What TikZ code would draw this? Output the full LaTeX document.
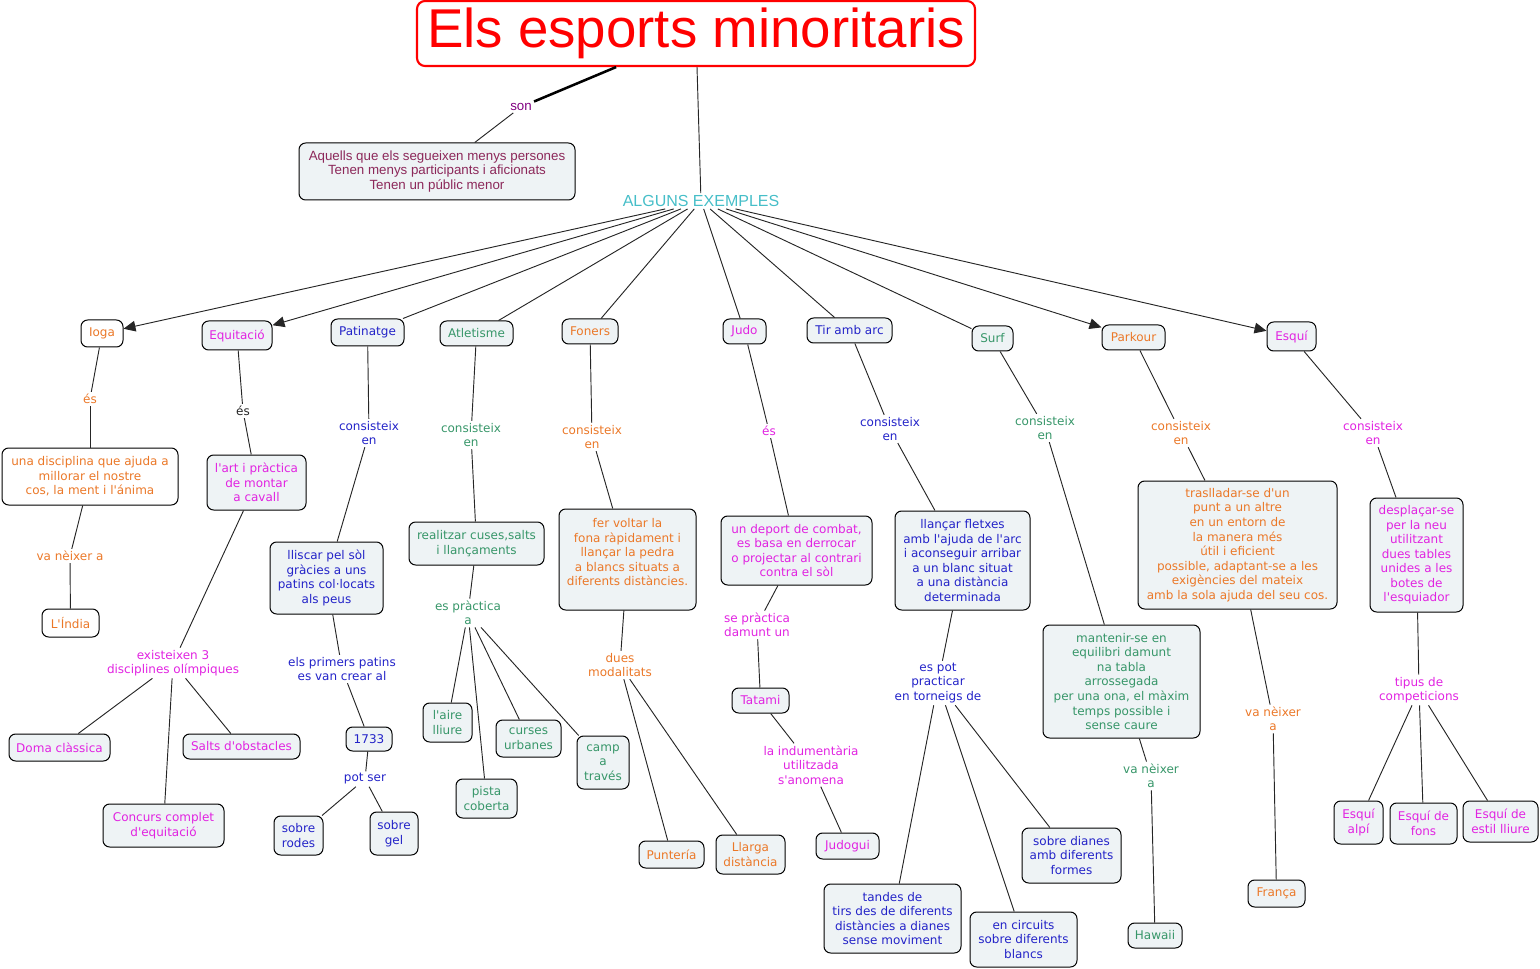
\documentclass[tikz,border=0pt]{standalone}
\usepackage{fontspec}
\setmainfont{DejaVu Sans}
\newfontfamily\lib{Liberation Sans}
\usetikzlibrary{arrows.meta}
\newcommand{\q}{\textquotesingle}
\definecolor{org}{RGB}{235,120,40}
\definecolor{mag}{RGB}{225,35,225}
\definecolor{blu}{RGB}{35,35,200}
\definecolor{grn}{RGB}{55,150,105}
\definecolor{tea}{RGB}{70,190,200}
\definecolor{boxfill}{RGB}{238,243,245}
\definecolor{pur}{RGB}{128,0,128}
\definecolor{mar}{RGB}{140,40,90}
\tikzset{
 bx/.style={draw=black, line width=0.75pt, rounded corners=5pt, fill=boxfill, align=center, inner sep=1.5pt, font=\fontsize{9}{10.9}\selectfont},
 wbx/.style={bx, fill=white},
 wh/.style 2 args={minimum width=#1*0.75pt, minimum height=#2*0.75pt},
 lbl/.style={align=center, inner sep=1.5pt, font=\fontsize{9}{10.9}\selectfont},
 ln/.style={draw=black!85, line width=0.7pt},
 arr/.style={ln, -{Triangle[length=9pt,width=8pt]}},
}
\begin{document}
\begin{tikzpicture}[x=0.75pt,y=-0.75pt]
\useasboundingbox (0,0) rectangle (1540,969);
% title
\node[draw=red, line width=1.6pt, rounded corners=6pt, fill=white, wh={558}{65}, text=red, font=\lib\fontsize{41}{45}\selectfont, inner sep=0pt] (title) at (696,33.5) {Els esports minoritaris};
\node[lbl, text=pur, font=\lib\fontsize{10}{11}\selectfont] (son) at (521,107) {son};
\node[bx, wh={276}{57}, text=mar, font=\lib\fontsize{10}{10.9}\selectfont] (aquells) at (437,171.5) {Aquells que els segueixen menys persones\\Tenen menys participants i aficionats\\Tenen un públic menor};
\node[lbl, text=tea, font=\lib\fontsize{12}{13}\selectfont] (alg) at (701,201) {ALGUNS EXEMPLES};
\draw[line width=1.9pt] (title) -- (son);
\draw[ln] (son) -- (aquells);
\draw[ln] (title) -- (alg);
% level 1
\node[wbx, wh={42}{27}, text=org] (ioga) at (102,333.5) {Ioga};
\node[bx, wh={70}{29}, text=mag] (equi) at (237,335.5) {Equitació};
\node[bx, wh={73}{27}, text=blu] (pat) at (367.5,332.5) {Patinatge};
\node[bx, wh={73}{25}, text=grn] (atl) at (476.5,333.5) {Atletisme};
\node[bx, wh={56}{25}, text=org] (fon) at (590,331.5) {Foners};
\node[bx, wh={43}{25}, text=mag] (judo) at (744.5,331.5) {Judo};
\node[bx, wh={85}{25}, text=blu] (tir) at (849.5,330.5) {Tir amb arc};
\node[bx, wh={41}{25}, text=grn] (surf) at (992.5,338.5) {Surf};
\node[bx, wh={63}{25}, text=org] (park) at (1133.5,337.5) {Parkour};
\node[bx, wh={49}{29}, text=mag] (esqui) at (1291.5,336.5) {Esquí};
\draw[arr] (alg) -- (ioga);
\draw[arr] (alg) -- (equi);
\draw[ln] (alg) -- (pat);
\draw[ln] (alg) -- (atl);
\draw[ln] (alg) -- (fon);
\draw[ln] (alg) -- (judo);
\draw[ln] (alg) -- (tir);
\draw[ln] (alg) -- (surf);
\draw[arr] (alg) -- (park);
\draw[arr] (alg) -- (esqui);
% Ioga
\node[lbl, text=org] (es1) at (90,399) {és};
\node[wbx, wh={176}{57}, text=org] (disc) at (90,476.5) {una disciplina que ajuda a\\millorar el nostre\\cos, la ment i l\q{}ánima};
\node[lbl, text=org] (vaneix1) at (70,556) {va nèixer a};
\node[wbx, wh={57}{28}, text=org] (india) at (70.5,623) {L\q{}Índia};
\draw[ln] (ioga) -- (es1);
\draw[ln] (es1) -- (disc);
\draw[ln] (disc) -- (vaneix1);
\draw[ln] (vaneix1) -- (india);
% Equitacio
\node[lbl, text=black!85] (es2) at (243,411) {és};
\node[bx, wh={99}{55}, text=mag] (art) at (256.5,482.5) {l\q{}art i pràctica\\de montar\\a cavall};
\node[lbl, text=mag] (exist) at (173,663) {existeixen 3\\disciplines olímpiques};
\node[bx, wh={101}{27}, text=mag] (doma) at (59.5,747.5) {Doma clàssica};
\node[bx, wh={117}{25}, text=mag] (salts) at (241.5,746.5) {Salts d\q{}obstacles};
\node[bx, wh={121}{43}, text=mag] (concurs) at (163.5,825.5) {Concurs complet\\d\q{}equitació};
\draw[ln] (equi) -- (es2);
\draw[ln] (es2) -- (art);
\draw[ln] (art) -- (exist);
\draw[ln] (exist) -- (doma);
\draw[ln] (exist) -- (salts);
\draw[ln] (exist) -- (concurs);
% Patinatge
\node[lbl, text=blu] (cons1) at (369,433) {consisteix\\en};
\node[bx, wh={113}{72}, text=blu] (lliscar) at (326.5,578) {lliscar pel sòl\\gràcies a uns\\patins col·locats\\als peus};
\node[lbl, text=blu] (primers) at (342,669) {els primers patins\\es van crear al};
\node[bx, wh={46}{24}, text=blu] (y1733) at (369,739) {1733};
\node[lbl, text=blu] (potser) at (365,779) {pot ser};
\node[bx, wh={49}{39}, text=blu] (rodes) at (298.5,835.5) {sobre\\rodes};
\node[bx, wh={48}{43}, text=blu] (gel) at (394,833.5) {sobre\\gel};
\draw[ln] (pat) -- (cons1);
\draw[ln] (cons1) -- (lliscar);
\draw[ln] (lliscar) -- (primers);
\draw[ln] (primers) -- (y1733);
\draw[ln] (y1733) -- (potser);
\draw[ln] (potser) -- (rodes);
\draw[ln] (potser) -- (gel);
% Atletisme
\node[lbl, text=grn] (cons2) at (471,435) {consisteix\\en};
\node[bx, wh={135}{43}, text=grn] (realitzar) at (476.5,543.5) {realitzar cuses,salts\\i llançaments};
\node[lbl, text=grn] (espract) at (468,613) {es pràctica\\a};
\node[bx, wh={49}{39}, text=grn] (aire) at (447.5,722.5) {l\q{}aire\\lliure};
\node[bx, wh={61}{39}, text=grn] (pista) at (486.5,798.5) {pista\\coberta};
\node[bx, wh={65}{37}, text=grn] (curses) at (528.5,738.5) {curses\\urbanes};
\node[bx, wh={52}{53}, text=grn] (camp) at (603,762.5) {camp\\a\\través};
\draw[ln] (atl) -- (cons2);
\draw[ln] (cons2) -- (realitzar);
\draw[ln] (realitzar) -- (espract);
\draw[ln] (espract) -- (aire);
\draw[ln] (espract) -- (pista);
\draw[ln] (espract) -- (curses);
\draw[ln] (espract) -- (camp);
% Foners
\node[lbl, text=org] (cons3) at (592,437) {consisteix\\en};
\node[bx, wh={137}{101}, text=org] (fer) at (627.5,559.5) {fer voltar la\\fona ràpidament i\\llançar la pedra\\a blancs situats a\\diferents distàncies.\\~};
\node[lbl, text=org] (dues) at (620,665) {dues\\modalitats};
\node[bx, wh={65}{27}, text=org] (punt) at (671.5,854.5) {Puntería};
\node[bx, wh={69}{39}, text=org] (llarga) at (750.5,854.5) {Llarga\\distància};
\draw[ln] (fon) -- (cons3);
\draw[ln] (cons3) -- (fer);
\draw[ln] (fer) -- (dues);
\draw[ln] (dues) -- (punt);
\draw[ln] (dues) -- (llarga);
% Judo
\node[lbl, text=mag] (es3) at (769,431) {és};
\node[bx, wh={151}{69}, text=mag] (deport) at (796.5,550.5) {un deport de combat,\\es basa en derrocar\\o projectar al contrari\\contra el sòl};
\node[lbl, text=mag] (sepract) at (757,625) {se pràctica\\damunt un};
\node[bx, wh={57}{25}, text=mag] (tatami) at (760.5,700.5) {Tatami};
\node[lbl, text=mag] (indum) at (811,765) {la indumentària\\utilitzada\\s\q{}anomena};
\node[bx, wh={63}{26}, text=mag] (judogui) at (847.5,846) {Judogui};
\draw[ln] (judo) -- (es3);
\draw[ln] (es3) -- (deport);
\draw[ln] (deport) -- (sepract);
\draw[ln] (sepract) -- (tatami);
\draw[ln] (tatami) -- (indum);
\draw[ln] (indum) -- (judogui);
% Tir amb arc
\node[lbl, text=blu] (cons4) at (890,429) {consisteix\\en};
\node[bx, wh={135}{99}, text=blu] (fletxes) at (962.5,560.5) {llançar fletxes\\amb l\q{}ajuda de l\q{}arc\\i aconseguir arribar\\a un blanc situat\\a una distància\\determinada};
\node[lbl, text=blu] (espot) at (938,683) {es pot\\practicar\\en torneigs de};
\node[bx, wh={137}{69}, text=blu] (tandes) at (892.5,918.5) {tandes de\\tirs des de diferents\\distàncies a dianes\\sense moviment};
\node[bx, wh={107}{55}, text=blu] (circuits) at (1023.5,939.5) {en circuits\\sobre diferents\\blancs};
\node[bx, wh={99}{55}, text=blu] (dianes) at (1071.5,855.5) {sobre dianes\\amb diferents\\formes};
\draw[ln] (tir) -- (cons4);
\draw[ln] (cons4) -- (fletxes);
\draw[ln] (fletxes) -- (espot);
\draw[ln] (espot) -- (tandes);
\draw[ln] (espot) -- (circuits);
\draw[ln] (espot) -- (dianes);
% Surf
\node[lbl, text=grn] (cons5) at (1045,428) {consisteix\\en};
\node[bx, wh={157}{113}, text=grn] (mantenir) at (1121.5,681.5) {mantenir-se en\\equilibri damunt\\na tabla\\arrossegada\\per una ona, el màxim\\temps possible i\\sense caure};
\node[lbl, text=grn] (vaneix2) at (1151,776) {va nèixer\\a};
\node[bx, wh={54}{25}, text=grn] (hawaii) at (1155,935.5) {Hawaii};
\draw[ln] (surf) -- (cons5);
\draw[ln] (cons5) -- (mantenir);
\draw[ln] (mantenir) -- (vaneix2);
\draw[ln] (vaneix2) -- (hawaii);
% Parkour
\node[lbl, text=org] (cons6) at (1181,433) {consisteix\\en};
\node[bx, wh={199}{128}, text=org] (trasl) at (1237.5,545) {traslladar-se d\q{}un\\punt a un altre\\en un entorn de\\la manera més\\útil i eficient\\possible, adaptant-se a les\\exigències del mateix\\amb la sola ajuda del seu cos.};
\node[lbl, text=org] (vaneix3) at (1273,719) {va nèixer\\a};
\node[bx, wh={57}{27}, text=org] (franca) at (1276.5,893.5) {França};
\draw[ln] (park) -- (cons6);
\draw[ln] (cons6) -- (trasl);
\draw[ln] (trasl) -- (vaneix3);
\draw[ln] (vaneix3) -- (franca);
% Esqui
\node[lbl, text=mag] (cons7) at (1373,433) {consisteix\\en};
\node[bx, wh={93}{114}, text=mag] (despl) at (1416.5,555) {desplaçar-se\\per la neu\\utilitzant\\dues tables\\unides a les\\botes de\\l\q{}esquiador};
\node[lbl, text=mag] (tipus) at (1419,690) {tipus de\\competicions};
\node[bx, wh={49}{43}, text=mag] (alpi) at (1358.5,822.5) {Esquí\\alpí};
\node[bx, wh={67}{41}, text=mag] (fons) at (1423.5,823.5) {Esquí de\\fons};
\node[bx, wh={75}{41}, text=mag] (lliure) at (1500.5,821.5) {Esquí de\\estil lliure};
\draw[ln] (esqui) -- (cons7);
\draw[ln] (cons7) -- (despl);
\draw[ln] (despl) -- (tipus);
\draw[ln] (tipus) -- (alpi);
\draw[ln] (tipus) -- (fons);
\draw[ln] (tipus) -- (lliure);
\end{tikzpicture}
\end{document}
